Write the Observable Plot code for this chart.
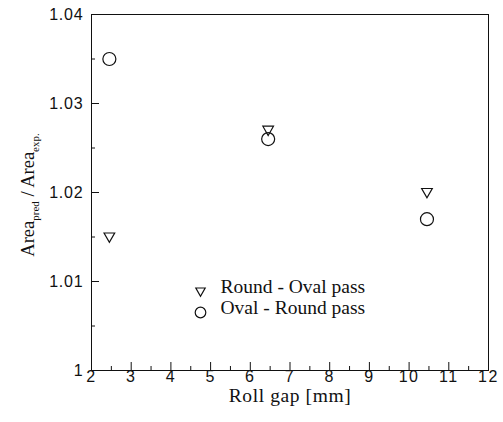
<!DOCTYPE html>
<html><head><meta charset="utf-8">
<script src="https://cdn.jsdelivr.net/npm/d3@7"></script>
<script src="https://cdn.jsdelivr.net/npm/@observablehq/plot@0.6"></script>
<style>body{margin:0;background:#fff}</style>
</head><body><div id="chart"></div>
<script>
// Data
const rollGap = [2.45, 6.45, 10.45];
const roundOval = [1.015, 1.027, 1.020];
const ovalRound = [1.035, 1.026, 1.017];
const seriesNames = ["Round - Oval pass", "Oval - Round pass"];
const xMajor = [2, 3, 4, 5, 6, 7, 8, 9, 10, 11, 12];
const xMinor = [2.5, 3.5, 4.5, 5.5, 6.5, 7.5, 8.5, 9.5, 10.5, 11.5];
const yMajor = [1, 1.01, 1.02, 1.03, 1.04];
const yMinor = [1.005, 1.015, 1.025, 1.035];
const yTickLabels = ["1", "1.01", "1.02", "1.03", "1.04"];
const xLabel = "Roll gap [mm]";

const W = 503, H = 422;
const mL = 91, mR = 15, mT = 14, mB = 52;
const plotW = W - mL - mR, plotH = H - mT - mB;

const triDown = {
  draw(ctx, size) {
    const s = Math.sqrt(size);
    ctx.moveTo(-s * 0.6, -s * 0.45);
    ctx.lineTo(s * 0.6, -s * 0.45);
    ctx.lineTo(0, s * 0.6);
    ctx.closePath();
  }
};

const roundOvalData = rollGap.map((x, i) => ({x, y: roundOval[i]}));
const ovalRoundData = rollGap.map((x, i) => ({x, y: ovalRound[i]}));

const serif = "Liberation Serif, Times New Roman, serif";
const sans = "Liberation Sans, Arial, sans-serif";
const ink = "#111";

const legendMarks = [];
const legendSymbols = [triDown, "circle"];
const legendR = [4.4, 5.3];
const legendDy = [-79, -58];
seriesNames.forEach((name, i) => {
  legendMarks.push(Plot.dot([name], {frameAnchor: "bottom-left", dx: 109, dy: legendDy[i],
    symbol: () => legendSymbols[i], r: legendR[i], stroke: ink, strokeWidth: 1.2, fill: "none"}));
  legendMarks.push(Plot.text([name], {frameAnchor: "bottom-left", dx: 129, dy: legendDy[i] + 1,
    text: d => d, textAnchor: "start", fontFamily: serif, fontSize: 19.5, fill: ink,
    style: "letter-spacing:0.8px"}));
});

const chart = Plot.plot({
  width: W, height: H,
  marginLeft: mL, marginRight: mR, marginTop: mT, marginBottom: mB,
  style: {background: "#fff", color: ink},
  x: {domain: [2, 12]},
  y: {domain: [1, 1.04]},
  symbol: {type: "identity"},
  marks: [
    Plot.frame({stroke: ink, strokeWidth: 1}),
    Plot.tickX(xMajor, {x: d => d, insetTop: plotH - 8, stroke: ink}),
    Plot.tickX(xMinor, {x: d => d, insetTop: plotH - 4, stroke: ink}),
    Plot.tickY(yMajor, {y: d => d, insetRight: plotW - 8, stroke: ink}),
    Plot.tickY(yMinor, {y: d => d, insetRight: plotW - 4, stroke: ink}),
    Plot.axisX({ticks: xMajor, tickSize: 0, tickPadding: 0, label: null,
      fontFamily: sans, fontSize: 16, fill: ink}),
    Plot.axisY({ticks: yMajor, tickSize: 0, tickPadding: 8, label: null,
      tickFormat: d => yTickLabels[yMajor.indexOf(d)], fontFamily: sans, fontSize: 16, fill: ink}),
    Plot.text([xLabel], {frameAnchor: "bottom", dy: 31, text: d => d, fontFamily: serif,
      fontSize: 19.5, fill: ink}),
    Plot.dot(roundOvalData, {x: "x", y: "y", symbol: () => triDown, r: 5, stroke: ink,
      strokeWidth: 1.2, fill: "none"}),
    Plot.dot(ovalRoundData, {x: "x", y: "y", symbol: () => "circle", r: 6.5, stroke: ink,
      strokeWidth: 1.2, fill: "none"}),
    ...legendMarks
  ]
});

document.getElementById("chart").appendChild(chart);

const svg = d3.select(chart);
// widen tick labels like the reference
svg.selectAll('g[aria-label="x-axis tick label"] text').style("letter-spacing", "1.5px");
svg.selectAll('g[aria-label="y-axis tick label"] text').style("letter-spacing", "0.8px");
svg.selectAll('g[aria-label="text"] text').filter(function() { return this.textContent === xLabel; })
  .style("letter-spacing", "0.6px");

// Y-axis label with subscripts
const yl = svg.append("text")
  .attr("transform", "translate(34,195) rotate(-90)")
  .attr("text-anchor", "middle")
  .attr("font-family", serif)
  .attr("font-size", 18.5)
  .attr("fill", ink);
yl.append("tspan").text("Area");
yl.append("tspan").attr("dy", 5).attr("font-size", 11).text("pred");
yl.append("tspan").attr("dy", -5).text(" / Area");
yl.append("tspan").attr("dy", 5).attr("font-size", 11).text("exp.");
</script>
</body></html>
